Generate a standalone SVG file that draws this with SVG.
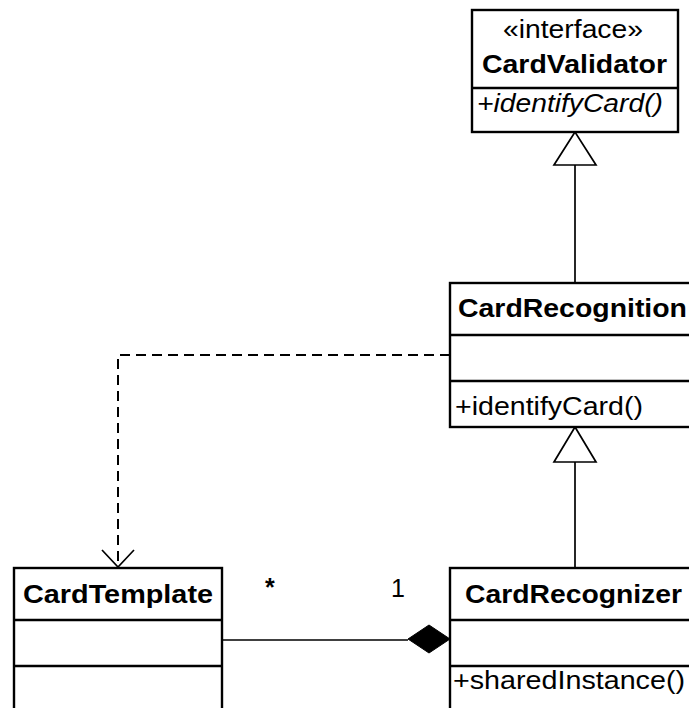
<svg xmlns="http://www.w3.org/2000/svg" width="689" height="708" viewBox="0 0 689 708">
  <defs>
    <style>
      .box { fill: #fff; stroke: #000; stroke-width: 2.4; }
      .div { stroke: #000; stroke-width: 2.4; }
      .t { font-family: "Liberation Sans", Arial, sans-serif; font-size: 25px; fill: #000; }
      .b { font-weight: bold; }
      .i { font-style: italic; }
      .line { fill: none; stroke: #000; stroke-width: 1.7; }
      .dash { stroke-width: 2; stroke-dasharray: 10 6; }
      .tri { fill: #fff; stroke: #000; stroke-width: 1.7; }
    </style>
  </defs>

  <!-- connectors -->
  <g id="connectors">
    <!-- CardRecognition realizes CardValidator -->
    <line class="line" x1="575" y1="165" x2="575" y2="283"/>
    <polygon class="tri" points="575,132 554,165 596,165"/>
    <!-- CardRecognizer extends CardRecognition -->
    <line class="line" x1="575" y1="462" x2="575" y2="568"/>
    <polygon class="tri" points="575,427 554,462 596,462"/>
    <!-- dependency CardRecognition -> CardTemplate -->
    <polyline class="line dash" points="450,355 118,355 118,566"/>
    <polyline class="line" points="102,550 118,567 134,550"/>
    <!-- composition CardTemplate - CardRecognizer -->
    <line class="line" x1="222" y1="640" x2="408" y2="640"/>
    <polygon points="408,639 429,625 450,639 429,653" fill="#000" stroke="#000" stroke-width="1"/>
    <text class="t b" x="265" y="596" font-size="22">*</text>
    <text class="t" x="391" y="597">1</text>
  </g>

  <g id="CardValidator">
    <rect class="box" x="472" y="10" width="206" height="122"/>
    <line class="div" x1="472" y1="88" x2="678" y2="88"/>
    <text class="t" x="503" y="38" textLength="140" lengthAdjust="spacingAndGlyphs">«interface»</text>
    <text class="t b" x="482" y="73" textLength="185" lengthAdjust="spacingAndGlyphs">CardValidator</text>
    <text class="t i" x="477" y="112" textLength="186" lengthAdjust="spacingAndGlyphs">+identifyCard()</text>
  </g>

  <g id="CardRecognition">
    <rect class="box" x="450" y="283" width="260" height="144"/>
    <line class="div" x1="450" y1="335" x2="710" y2="335"/>
    <line class="div" x1="450" y1="381" x2="710" y2="381"/>
    <text class="t b" x="458" y="317" textLength="229" lengthAdjust="spacingAndGlyphs">CardRecognition</text>
    <text class="t" x="455" y="415" textLength="188" lengthAdjust="spacingAndGlyphs">+identifyCard()</text>
  </g>

  <g id="CardTemplate">
    <rect class="box" x="14" y="568" width="208" height="160"/>
    <line class="div" x1="14" y1="620" x2="222" y2="620"/>
    <line class="div" x1="14" y1="666" x2="222" y2="666"/>
    <text class="t b" x="23" y="603" textLength="190" lengthAdjust="spacingAndGlyphs">CardTemplate</text>
  </g>

  <g id="CardRecognizer">
    <rect class="box" x="450" y="568" width="260" height="160"/>
    <line class="div" x1="450" y1="620" x2="710" y2="620"/>
    <line class="div" x1="450" y1="666" x2="710" y2="666"/>
    <text class="t b" x="465" y="603" textLength="217" lengthAdjust="spacingAndGlyphs">CardRecognizer</text>
    <text class="t" x="453" y="689" textLength="232" lengthAdjust="spacingAndGlyphs">+sharedInstance()</text>
  </g>
</svg>
